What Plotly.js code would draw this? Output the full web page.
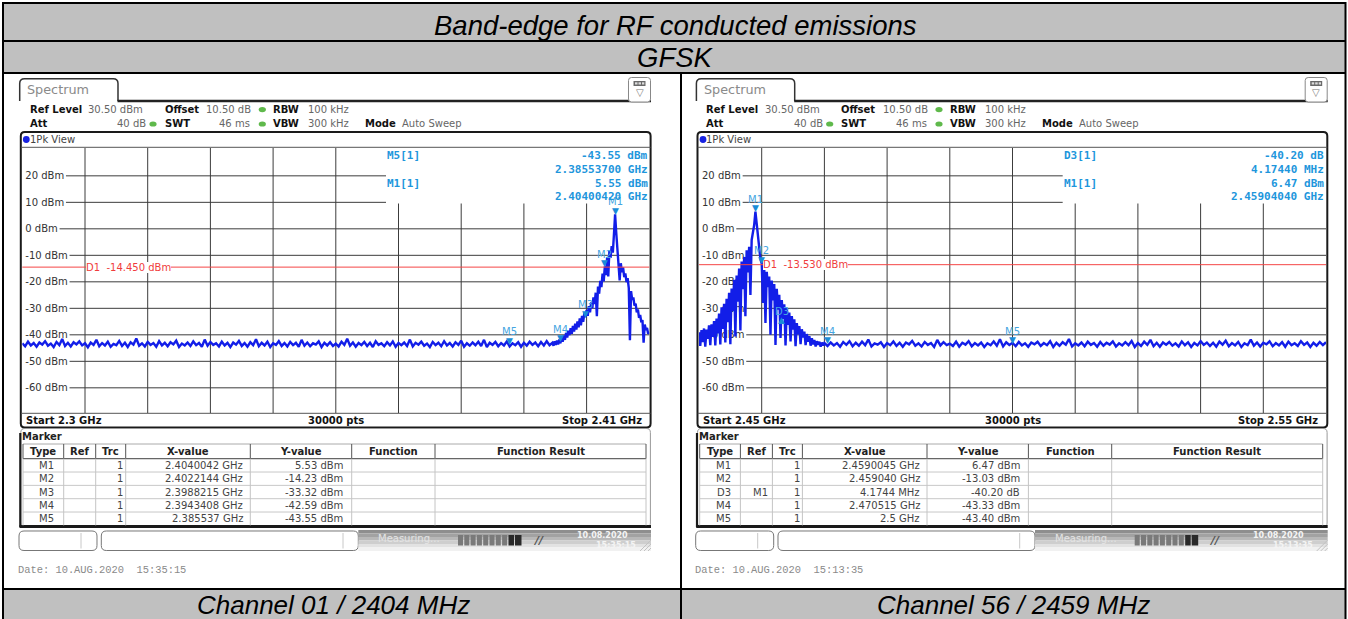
<!DOCTYPE html>
<html><head><meta charset="utf-8">
<script src="https://cdn.plot.ly/plotly-3.0.1.min.js"></script>
<style>html,body{margin:0;padding:0;background:#fff;overflow:hidden}#chart{width:1348px;height:619px}</style>
</head><body><div id="chart"></div>
<script>
// ================= DATA =================
const pageTitle = 'Band-edge for RF conducted emissions';
const modulation = 'GFSK';
const channelLabels = ['Channel 01 / 2404 MHz', 'Channel 56 / 2459 MHz'];
const dateStamps = ['Date: 10.AUG.2020  15:35:15', 'Date: 10.AUG.2020  15:13:35'];
const statusTimes = ['15:35:15', '15:13:35'];
const spanStartGHz = [2.30, 2.45];
const spanStopGHz = [2.41, 2.55];
const spanStartText = ['Start 2.3 GHz', 'Start 2.45 GHz'];
const spanStopText = ['Stop 2.41 GHz', 'Stop 2.55 GHz'];
const sweepPointsText = '30000 pts';
const refLevelDbm = 30.5;
const dbPerDiv = 10;
const levelTicks = [20, 10, 0, -10, -20, -30, -40, -50, -60];
const levelTickText = ['20 dBm', '10 dBm', '0 dBm', '-10 dBm', '-20 dBm', '-30 dBm', '-40 dBm', '-50 dBm', '-60 dBm'];
const displayLineDbm = [-14.45, -13.53];
const displayLineText = ['D1  -14.450 dBm', 'D1  -13.530 dBm'];

const settingLabels = ['Ref Level', 'Offset', 'RBW', 'Att', 'SWT', 'VBW', 'Mode'];
const settingValues = ['30.50 dBm', '10.50 dB', '100 kHz', '40 dB', '46 ms', '300 kHz', 'Auto Sweep'];

// Channel 01 trace (dBm)
const ch01FloorStart = 2.300, ch01FloorStep = 0.0005;
const ch01FloorDbm = [
 -43.2,-44.3,-42.6,-44.0,-43.1,-44.5,-42.9,-43.7,-42.4,-44.1,
 -43.3,-44.6,-42.7,-43.9,-41.6,-44.2,-43.0,-44.4,-42.8,-43.6,
 -42.5,-44.0,-43.2,-44.7,-42.9,-43.8,-41.9,-44.3,-43.1,-44.0,
 -42.6,-44.5,-43.4,-43.9,-42.3,-44.2,-43.0,-44.6,-42.8,-43.7,
 -41.4,-44.1,-43.2,-44.4,-42.7,-43.8,-43.1,-44.5,-42.4,-44.0,
 -43.0,-44.3,-42.8,-43.6,-42.2,-44.6,-43.3,-44.0,-42.9,-44.2,
 -42.5,-43.9,-43.1,-44.5,-41.8,-44.1,-42.7,-43.8,-43.2,-44.4,
 -42.6,-44.0,-43.0,-44.6,-42.9,-43.7,-42.3,-44.2,-43.1,-44.5,
 -42.8,-43.9,-41.7,-44.3,-43.0,-44.0,-42.6,-44.6,-43.2,-43.8,
 -42.4,-44.2,-43.1,-44.4,-42.7,-43.9,-43.0,-44.5,-41.9,-44.1,
 -42.9,-44.3,-43.2,-43.7,-42.5,-44.6,-43.0,-44.0,-42.8,-44.2,
 -43.3,-44.4,-42.6,-43.8,-41.5,-44.1,-42.9,-44.5,-43.1,-43.9,
 -42.7,-44.2,-43.0,-44.6,-42.4,-43.8,-43.2,-44.3,-42.8,-44.0,
 -42.5,-44.5,-43.1,-43.9,-42.9,-44.2,-41.8,-44.4,-43.0,-43.7,
 -42.6,-44.1,-43.3,-44.6,-42.7,-43.9,-43.0,-44.3,-42.4,-44.0,
 -43.1,-44.4,-42.8,-43.8,-42.2,-44.5,-43.2,-44.1,-42.9,-43.9,
 -42.6,-44.2,-41.9,-44.6,-43.0,-43.8,-42.7,-44.3,-43.1,-44.0,
 -42.5,-44.4,-43.2,-43.9,-42.8,-44.5,-43.0,-44.1,-42.6,-43.8,
 -42.9,-44.3,-42.7,-44.0,-42.4,-43.9
];
const ch01SkirtStart = 2.393, ch01SkirtStep = 0.0002;
const ch01SkirtDbm = [
 -43.0,-44.1,-42.4,-43.8,-42.2,-43.6,-41.8,-43.2,-41.0,-42.6,
 -40.2,-41.9,-39.3,-41.0,-38.4,-40.1,-37.5,-39.6,-36.6,-38.8,
 -35.8,-38.0,-34.9,-37.2,-33.8,-36.4,-32.9,-35.1,-31.8,-33.3,
 -30.6,-32.8,-29.2,-31.5,-27.8,-29.9,-25.9,-28.4,-24.1,-33.0,
 -21.8,-24.5,-19.6,-22.0,-16.9,-19.8,-14.2,-17.5,-10.8,-18.0,
 -8.2,-11.0,-6.5,-9.0,-2.0,5.5,-1.5,-8.0,-12.5,-19.5,
 -13.0,-16.4,-14.6,-18.2,-16.8,-20.1,-18.6,-22.4,-42.0,-23.5,
 -26.8,-25.9,-29.0,-28.2,-31.5,-30.4,-33.6,-32.5,-35.3,-34.4,
 -43.0,-36.1,-38.2,-37.4,-39.6,-39.0
];

// Channel 56 trace (dBm)
const ch56SkirtStart = 2.450, ch56SkirtStep = 0.0002;
const ch56SkirtDbm = [
 -39.0,-44.2,-38.2,-42.8,-37.6,-44.5,-38.0,-41.5,-36.4,-43.9,
 -36.0,-40.8,-34.8,-44.0,-33.9,-39.5,-32.0,-43.6,-29.6,-37.8,
 -28.3,-42.9,-26.4,-35.2,-24.1,-43.5,-22.5,-31.0,-19.2,-40.6,
 -17.6,-27.5,-15.0,-38.4,-12.3,-22.8,-10.6,-33.0,-8.1,-16.5,
 -6.8,-25.0,-4.2,-2.0,1.5,6.5,2.0,-3.5,-8.0,-11.5,
 -13.0,-28.0,-14.6,-35.5,-16.2,-22.0,-18.0,-40.0,-19.5,-27.0,
 -20.8,-43.8,-22.6,-30.5,-24.9,-41.2,-26.9,-34.0,-28.5,-44.0,
 -29.8,-36.2,-31.6,-42.5,-32.9,-38.0,-34.1,-44.3,-35.6,-39.8,
 -36.7,-43.5,-37.9,-41.0,-38.8,-43.9,-39.7,-42.6,-40.5,-44.1,
 -41.3,-43.6,-41.9,-44.4,-42.4,-43.8,-42.6,-44.5,-42.9,-44.0,
 -43.1
];
const ch56FloorStart = 2.4705, ch56FloorStep = 0.0005;
const ch56FloorDbm = [
 -44.2,-42.9,-44.0,-43.1,-44.5,-42.7,-43.8,-42.4,-44.3,-43.0,
 -44.1,-42.6,-43.9,-41.8,-44.4,-43.2,-43.7,-42.8,-44.6,-43.1,
 -43.9,-42.5,-44.2,-43.0,-44.5,-42.9,-43.6,-42.3,-44.1,-43.2,
 -44.4,-42.7,-43.8,-43.1,-44.6,-41.9,-44.0,-42.8,-43.9,-43.3,
 -44.2,-42.6,-44.5,-43.0,-43.7,-42.4,-44.3,-43.1,-44.0,-42.9,
 -44.6,-43.2,-43.9,-42.5,-44.1,-41.7,-44.4,-42.8,-43.8,-43.0,
 -44.3,-42.7,-44.0,-43.2,-44.5,-42.9,-43.6,-42.6,-44.2,-43.1,
 -43.9,-42.4,-44.6,-43.0,-44.1,-42.8,-43.7,-41.6,-44.4,-43.2,
 -44.0,-42.9,-44.3,-42.6,-43.8,-43.1,-44.5,-42.7,-44.1,-43.0,
 -43.7,-42.5,-44.4,-43.2,-44.0,-42.8,-43.9,-42.3,-44.6,-43.1,
 -44.2,-42.6,-43.8,-41.9,-44.3,-43.0,-44.5,-42.9,-43.7,-42.7,
 -44.1,-43.2,-44.4,-42.5,-43.9,-42.8,-44.6,-43.1,-44.0,-42.4,
 -43.8,-42.9,-44.2,-43.0,-44.5,-42.6,-43.7,-42.2,-44.3,-43.1,
 -44.0,-42.7,-44.6,-43.2,-43.9,-41.8,-44.1,-42.9,-44.4,-43.0,
 -43.6,-42.5,-44.3,-43.1,-44.0,-42.8,-44.5,-42.6,-43.9,-43.2,
 -44.2,-42.4,-43.8,-42.9,-44.6,-43.0,-44.1,-42.7,-43.9,-42.8
];

// Markers (positions as drawn on screen)
const ch01MarkerNames = ['M1', 'M2', 'M3', 'M4', 'M5'];
const ch01MarkerGHz = [2.4040042, 2.4022144, 2.3988215, 2.3943408, 2.385537];
const ch01MarkerDbm = [5.53, -14.23, -33.32, -42.59, -43.55];
const ch56MarkerNames = ['M1', 'M2', 'D3', 'M4', 'M5'];
const ch56MarkerGHz = [2.4590045, 2.45994, 2.4631789, 2.470515, 2.5];
const ch56MarkerDbm = [6.47, -13.03, -33.73, -43.33, -43.40];

// Marker info box
const ch01Info = [['M5[1]', '-43.55 dBm', '2.38553700 GHz'], ['M1[1]', '5.55 dBm', '2.40400420 GHz']];
const ch56Info = [['D3[1]', '-40.20 dB', '4.17440 MHz'], ['M1[1]', '6.47 dBm', '2.45904040 GHz']];

// Marker table
const tableHeaders = ['Type', 'Ref', 'Trc', 'X-value', 'Y-value', 'Function', 'Function Result'];
const ch01TableType = ['M1', 'M2', 'M3', 'M4', 'M5'];
const ch01TableRef = ['', '', '', '', ''];
const ch01TableTrc = ['1', '1', '1', '1', '1'];
const ch01TableX = ['2.4040042 GHz', '2.4022144 GHz', '2.3988215 GHz', '2.3943408 GHz', '2.385537 GHz'];
const ch01TableY = ['5.53 dBm', '-14.23 dBm', '-33.32 dBm', '-42.59 dBm', '-43.55 dBm'];
const ch56TableType = ['M1', 'M2', 'D3', 'M4', 'M5'];
const ch56TableRef = ['', '', 'M1', '', ''];
const ch56TableTrc = ['1', '1', '1', '1', '1'];
const ch56TableX = ['2.4590045 GHz', '2.459040 GHz', '4.1744 MHz', '2.470515 GHz', '2.5 GHz'];
const ch56TableY = ['6.47 dBm', '-13.03 dBm', '-40.20 dB', '-43.33 dBm', '-43.40 dBm'];

// ================= DRAWING =================
const W = 1348, H = 619;
const px = x => x / W, py = y => 1 - y / H;
const shapes = [], annotations = [];
const SANS = 'DejaVu Sans, sans-serif';
const ARIAL = 'Liberation Sans, Arial, sans-serif';

function ln(x0, y0, x1, y1, color, width, layer) {
  shapes.push({type: 'line', xref: 'paper', yref: 'paper', x0: px(x0), y0: py(y0), x1: px(x1), y1: py(y1),
    line: {color: color, width: width}, layer: layer || 'below'});
}
function box(x0, y0, x1, y1, fill, lc, lw, layer) {
  shapes.push({type: 'rect', xref: 'paper', yref: 'paper', x0: px(x0), y0: py(y0), x1: px(x1), y1: py(y1),
    fillcolor: fill, line: {color: lc || 'rgba(0,0,0,0)', width: lw || 0}, layer: layer || 'below'});
}
function P(x, y) { return px(x).toFixed(6) + ',' + py(y).toFixed(6); }
function rrect(x0, y0, x1, y1, r, fill, lc, lw) {
  const d = 'M' + P(x0 + r, y0) + ' L' + P(x1 - r, y0) + ' Q' + P(x1, y0) + ' ' + P(x1, y0 + r) +
    ' L' + P(x1, y1 - r) + ' Q' + P(x1, y1) + ' ' + P(x1 - r, y1) + ' L' + P(x0 + r, y1) +
    ' Q' + P(x0, y1) + ' ' + P(x0, y1 - r) + ' L' + P(x0, y0 + r) + ' Q' + P(x0, y0) + ' ' + P(x0 + r, y0) + ' Z';
  shapes.push({type: 'path', xref: 'paper', yref: 'paper', path: d, fillcolor: fill,
    line: {color: lc, width: lw}, layer: 'below'});
}
function dot(cx, cy, rx, ry, fill) {
  shapes.push({type: 'circle', xref: 'paper', yref: 'paper', x0: px(cx - rx), x1: px(cx + rx), y0: py(cy + ry), y1: py(cy - ry),
    fillcolor: fill, line: {width: 0}, layer: 'below'});
}
function txt(x, y, t, o) {
  o = o || {};
  annotations.push({xref: 'paper', yref: 'paper', x: px(x), y: py(y), text: t, showarrow: false,
    xanchor: o.xa || 'left', yanchor: 'middle', borderpad: 0, borderwidth: 0,
    bgcolor: o.bg || 'rgba(0,0,0,0)',
    font: {family: o.fam || SANS, size: o.size || 10, color: o.color || '#333'}});
}

// ---- page table ----
const GRAY = '#c0c0c0';
box(3, 3, 1346, 41, GRAY);
box(3, 41, 1346, 73, GRAY);
box(3, 589, 1346, 619, GRAY);
ln(2, 3, 1346, 3, '#000', 2);
ln(3, 2, 3, 619, '#000', 2);
ln(1345.5, 2, 1345.5, 619, '#000', 2);
ln(2, 41, 1346, 41, '#000', 2);
ln(2, 73, 1346, 73, '#000', 2);
ln(2, 589, 1346, 589, '#000', 2);
ln(681, 73, 681, 619, '#000', 2);
txt(675.5, 25, '<i>' + pageTitle + '</i>', {xa: 'center', fam: ARIAL, size: 27.5, color: '#000'});
txt(675.5, 57.5, '<i>' + modulation + '</i>', {xa: 'center', fam: ARIAL, size: 27.5, color: '#000'});
txt(333, 605, '<i>' + channelLabels[0] + '</i>', {xa: 'center', fam: ARIAL, size: 26, color: '#000'});
txt(1013.5, 605, '<i>' + channelLabels[1] + '</i>', {xa: 'center', fam: ARIAL, size: 26, color: '#000'});

// ---- per-panel ----
const dxs = [0, 676.7];
const markerNames = [ch01MarkerNames, ch56MarkerNames];
const markerGHz = [ch01MarkerGHz, ch56MarkerGHz];
const markerDbm = [ch01MarkerDbm, ch56MarkerDbm];
const infoRows = [ch01Info, ch56Info];
const tType = [ch01TableType, ch56TableType], tRef = [ch01TableRef, ch56TableRef], tTrc = [ch01TableTrc, ch56TableTrc],
  tX = [ch01TableX, ch56TableX], tY = [ch01TableY, ch56TableY];

const measureCtx = document.createElement('canvas').getContext('2d');
measureCtx.font = '10px "DejaVu Sans"';

const MK_TRI = 'rgb(25,140,215)', MK_LBL = 'rgb(70,165,225)', INFO = 'rgb(30,150,220)';

function panel(p) {
  const dx = dxs[p];
  const xa = p === 0 ? 'x' : 'x2', ya = p === 0 ? 'y' : 'y2';
  const L = 22.3 + dx, R = 649.3 + dx, T = 148, B = 413;

  // Spectrum tab
  const tab = 'M' + P(19.7 + dx, 101) + ' L' + P(19.7 + dx, 83.5) + ' Q' + P(19.7 + dx, 78.7) + ' ' + P(24.5 + dx, 78.7) +
    ' L' + P(113.2 + dx, 78.7) + ' Q' + P(118 + dx, 78.7) + ' ' + P(118 + dx, 83.5) + ' L' + P(118 + dx, 101);
  shapes.push({type: 'path', xref: 'paper', yref: 'paper', path: tab, line: {color: '#333', width: 1.5}, layer: 'below'});
  ln(117.5 + dx, 101, 651 + dx, 101, '#222', 2.5);
  txt(27.3 + dx, 90, 'Spectrum', {size: 12.8, color: '#8a8a8a'});
  // icon
  rrect(628.5 + dx, 77.5, 650.5 + dx, 102, 3, '#fff', '#888', 1);
  box(633.5 + dx, 81, 645.5 + dx, 86, '#6a6a6a');
  box(635 + dx, 82.3, 637.5 + dx, 84.5, '#ddd');
  box(638.5 + dx, 82.3, 641 + dx, 84.5, '#ddd');
  box(642 + dx, 82.3, 644.3 + dx, 84.5, '#ddd');
  txt(639.5 + dx, 92.5, '▽', {xa: 'center', size: 10, color: '#777'});

  // settings header
  const B1 = '#111', V = '#666';
  txt(29.7 + dx, 109.3, '<b>' + settingLabels[0] + '</b>', {color: B1});
  txt(88 + dx, 109.3, settingValues[0], {color: V});
  txt(164.7 + dx, 109.3, '<b>' + settingLabels[1] + '</b>', {color: B1});
  txt(206 + dx, 109.3, settingValues[1], {color: V});
  dot(262.3 + dx, 109.6, 3.6, 2.6, 'rgb(95,185,75)');
  txt(273 + dx, 109.3, '<b>' + settingLabels[2] + '</b>', {color: B1});
  txt(308 + dx, 109.3, settingValues[2], {color: V});
  txt(29.7 + dx, 123.7, '<b>' + settingLabels[3] + '</b>', {color: B1});
  txt(146.3 + dx, 123.7, settingValues[3], {color: V, xa: 'right'});
  dot(153 + dx, 124, 3.6, 2.6, 'rgb(95,185,75)');
  txt(164.7 + dx, 123.7, '<b>' + settingLabels[4] + '</b>', {color: B1});
  txt(250.3 + dx, 123.7, settingValues[4], {color: V, xa: 'right'});
  dot(262.3 + dx, 124, 3.6, 2.6, 'rgb(95,185,75)');
  txt(273 + dx, 123.7, '<b>' + settingLabels[5] + '</b>', {color: B1});
  txt(308 + dx, 123.7, settingValues[5], {color: V});
  txt(365 + dx, 123.7, '<b>' + settingLabels[6] + '</b>', {color: B1});
  txt(402 + dx, 123.7, settingValues[6], {color: V});

  // diagram frame
  rrect(20.8 + dx, 132, 650.6 + dx, 427.5, 4, 'rgba(0,0,0,0)', '#1a1a1a', 2);
  ln(21 + dx, 147.3, 650.5 + dx, 147.3, '#555', 1);
  ln(21 + dx, 413.3, 650.5 + dx, 413.3, '#555', 1);
  dot(26.3 + dx, 139.5, 3.4, 3.4, 'rgb(25,35,225)');
  txt(29.7 + dx, 139.6, '1Pk View', {color: '#444'});

  // grid
  const s0 = spanStartGHz[p], s1 = spanStopGHz[p];
  for (let k = 1; k < 10; k++) {
    const gx = s0 + k * (s1 - s0) / 10;
    shapes.push({type: 'line', xref: xa, yref: 'paper', x0: gx, x1: gx, y0: py(B), y1: py(k >= 6 ? 203.5 : T),
      line: {color: '#3c3c3c', width: 1}, layer: 'below'});
  }
  levelTicks.forEach((v, i) => {
    const w = measureCtx.measureText(levelTickText[i]).width;
    const x0 = L + 3.8 + w + 1;
    const x1 = v >= 10 ? 386 + dx : R;
    shapes.push({type: 'line', xref: 'paper', yref: ya, x0: px(x0), x1: px(x1), y0: v, y1: v,
      line: {color: '#3c3c3c', width: 1}, layer: 'below'});
  });

  // display line D1
  shapes.push({type: 'line', xref: 'paper', yref: ya, x0: px(L), x1: px(R), y0: displayLineDbm[p], y1: displayLineDbm[p],
    line: {color: 'rgb(245,70,70)', width: 1}, layer: 'above'});
  annotations.push({xref: 'paper', yref: ya, x: px(86.3 + dx), y: displayLineDbm[p], text: displayLineText[p],
    showarrow: false, xanchor: 'left', yanchor: 'middle', bgcolor: '#fff', borderpad: 0, borderwidth: 0,
    font: {family: SANS, size: 10, color: 'rgb(240,60,60)'}});

  // markers
  markerNames[p].forEach((nm, i) => {
    const up = nm.charAt(0) === 'D';
    annotations.push({xref: xa, yref: ya, x: markerGHz[p][i], y: markerDbm[p][i], text: up ? '▲' : '▼',
      showarrow: false, xanchor: 'center', yanchor: 'middle', yshift: up ? -2 : 3.6, borderpad: 0, borderwidth: 0,
      font: {family: SANS, size: 9, color: MK_TRI}});
    annotations.push({xref: xa, yref: ya, x: markerGHz[p][i], y: markerDbm[p][i], text: nm,
      showarrow: false, xanchor: 'center', yanchor: 'middle', yshift: up ? 6.5 : 12.5, borderpad: 0, borderwidth: 0,
      font: {family: SANS, size: 10, color: MK_LBL}});
  });

  // info box
  const inf = infoRows[p];
  [[155.7, 169.3], [183.3, 197]].forEach((yy, r) => {
    txt(387 + dx, yy[0], '<b>' + inf[r][0] + '</b>', {fam: 'DejaVu Sans Mono, monospace', size: 11, color: INFO});
    txt(647.5 + dx, yy[0], '<b>' + inf[r][1] + '</b>', {fam: 'DejaVu Sans Mono, monospace', size: 11, color: INFO, xa: 'right'});
    txt(647.5 + dx, yy[1], '<b>' + inf[r][2] + '</b>', {fam: 'DejaVu Sans Mono, monospace', size: 11, color: INFO, xa: 'right'});
  });

  // bottom bar labels
  txt(26 + dx, 420.5, '<b>' + spanStartText[p] + '</b>', {color: '#111'});
  txt((L + R) / 2, 420.5, '<b>' + sweepPointsText + '</b>', {color: '#111', xa: 'center'});
  txt(641.7 + dx, 420.5, '<b>' + spanStopText[p] + '</b>', {color: '#111', xa: 'right'});

  // marker table box
  rrect(20.8 + dx, 428.5, 650.4 + dx, 527, 4, 'rgba(0,0,0,0)', '#999', 1);
  ln(20.3 + dx, 433, 20.3 + dx, 527, '#1a1a1a', 2.2);
  ln(19.5 + dx, 526.5, 651 + dx, 526.5, '#1a1a1a', 3);
  txt(22 + dx, 436.3, '<b>Marker</b>', {color: '#222'});
  const edges = [23, 63.7, 95.7, 125.7, 250.3, 351.7, 435, 646];
  const hT = 444, hB = 458.7, rh = 13.33;
  ln(23 + dx, hT, 646 + dx, hT, '#aaa', 1);
  ln(23 + dx, hB, 646 + dx, hB, '#666', 1.2);
  for (let r = 1; r < 5; r++) ln(23 + dx, hB + r * rh, 646 + dx, hB + r * rh, '#c8c8c8', 1);
  edges.forEach(e => {
    ln(e + dx, hT, e + dx, hB, '#555', 1);
    ln(e + dx, hB, e + dx, hB + 5 * rh, '#c4c4c4', 1);
  });
  tableHeaders.forEach((h, c) => txt((edges[c] + edges[c + 1]) / 2 + dx, 451.6, '<b>' + h + '</b>', {xa: 'center', color: '#222'}));
  for (let r = 0; r < 5; r++) {
    const yy = hB + (r + 0.5) * rh;
    txt(54.3 + dx, yy, tType[p][r], {xa: 'right', color: '#444'});
    if (tRef[p][r]) txt(91.5 + dx, yy, tRef[p][r], {xa: 'right', color: '#444'});
    txt(123.2 + dx, yy, tTrc[p][r], {xa: 'right', color: '#444'});
    txt(243.2 + dx, yy, tX[p][r], {xa: 'right', color: '#444'});
    txt(343.3 + dx, yy, tY[p][r], {xa: 'right', color: '#444'});
  }

  // status bar
  rrect(19 + dx, 531, 97 + dx, 550.5, 5, '#fff', '#777', 1);
  ln(81 + dx, 533, 81 + dx, 548.5, '#c8c8c8', 1);
  rrect(101.3 + dx, 531, 358.3 + dx, 550.5, 5, '#fff', '#777', 1);
  ln(343 + dx, 533, 343 + dx, 548.5, '#c8c8c8', 1);
  const bands = [['#8e8e8e', 530, 533.5], ['#a2a2a2', 533.5, 537], ['#b8b8b8', 537, 540.5], ['#cecece', 540.5, 544], ['#e2e2e2', 544, 547.5], ['#f1f1f1', 547.5, 551]];
  bands.forEach(b => box(358.3 + dx, b[1], 651 + dx, b[2], b[0]));
  txt(378 + dx, 538.5, 'Measuring...', {color: '#e4e4e4', size: 10});
  for (let k = 0; k < 8; k++) box(458 + k * 6.3 + dx, 535, 463 + k * 6.3 + dx, 545.5, '#7a7a7a');
  box(508.5 + dx, 535, 514 + dx, 545.5, '#2a2a2a');
  box(515 + dx, 535, 521.5 + dx, 545.5, '#2a2a2a');
  txt(538 + dx, 540, '<b><i>//</i></b>', {xa: 'center', color: '#555', size: 11});
  txt(602 + dx, 535.8, '<b>10.08.2020</b>', {xa: 'center', color: '#f4f4f4', size: 8});
  txt(616 + dx, 545.5, '<b>' + statusTimes[p] + '</b>', {xa: 'center', color: '#f4f4f4', size: 8});
  ln(640 + dx, 551, 651 + dx, 540, '#c2c2c2', 1);
  ln(644 + dx, 551, 651 + dx, 544, '#c2c2c2', 1);
  ln(648 + dx, 551, 651 + dx, 548, '#c2c2c2', 1);

  // date line
  txt(18 + dx, 569.7, dateStamps[p], {fam: 'Liberation Mono, monospace', size: 10.4, color: '#8a8a8a'});
}
panel(0);
panel(1);

// ---- traces ----
function sweep(start, step, levels) { return levels.map((_, i) => +(start + i * step).toFixed(7)); }
const ch01X = sweep(ch01FloorStart, ch01FloorStep, ch01FloorDbm).concat(sweep(ch01SkirtStart, ch01SkirtStep, ch01SkirtDbm));
const ch01Y = ch01FloorDbm.concat(ch01SkirtDbm);
const ch56X = sweep(ch56SkirtStart, ch56SkirtStep, ch56SkirtDbm).concat(sweep(ch56FloorStart, ch56FloorStep, ch56FloorDbm));
const ch56Y = ch56SkirtDbm.concat(ch56FloorDbm);
const TRACE = 'rgb(18,30,232)';
const data = [
  {type: 'scatter', mode: 'lines', x: ch01X, y: ch01Y, xaxis: 'x', yaxis: 'y', line: {color: TRACE, width: 2.4}, hoverinfo: 'skip'},
  {type: 'scatter', mode: 'lines', x: ch56X, y: ch56Y, xaxis: 'x2', yaxis: 'y2', line: {color: TRACE, width: 2.4}, hoverinfo: 'skip'}
];

const yBottom = refLevelDbm - 10 * dbPerDiv;
function yAxis(anchor) {
  return {anchor: anchor, domain: [py(413), py(148)], range: [yBottom, refLevelDbm], showgrid: false, zeroline: false,
    showline: false, ticks: '', tickmode: 'array', tickvals: levelTicks, ticktext: levelTickText,
    ticklabelposition: 'inside', ticklabelstandoff: 0, layer: 'below traces', fixedrange: true,
    tickfont: {family: SANS, size: 10, color: '#333'}};
}
const layout = {
  width: W, height: H, margin: {l: 0, r: 0, t: 0, b: 0}, paper_bgcolor: '#fff', plot_bgcolor: 'rgba(0,0,0,0)',
  showlegend: false, dragmode: false,
  xaxis: {domain: [px(22.3), px(649.3)], range: [spanStartGHz[0], spanStopGHz[0]], visible: false, anchor: 'y', fixedrange: true},
  yaxis: yAxis('x'),
  xaxis2: {domain: [px(699), px(1326)], range: [spanStartGHz[1], spanStopGHz[1]], visible: false, anchor: 'y2', fixedrange: true},
  yaxis2: yAxis('x2'),
  shapes: shapes, annotations: annotations
};
Plotly.newPlot('chart', data, layout, {staticPlot: true, displayModeBar: false});
</script>
</body></html>
